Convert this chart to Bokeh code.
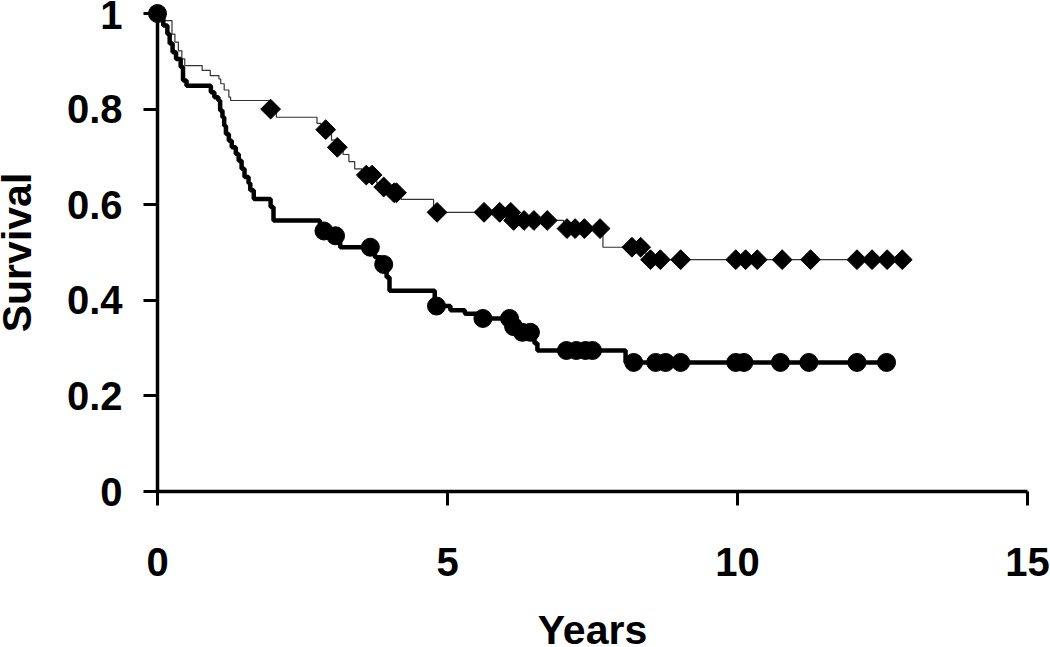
import numpy as np
from bokeh.plotting import figure
from bokeh.models import Range1d, FixedTicker
from bokeh.core.properties import value
from bokeh.embed import file_html
from bokeh.resources import INLINE

# ---- data ----
# Group A: thin line, diamonds (higher survival)
a_time = [0, 0.10, 0.25, 0.30, 0.36, 0.42, 0.47, 0.77, 0.91, 1.06, 1.09, 1.15, 1.23, 1.26,
          1.93, 2.05, 2.75, 2.82, 3.00, 3.08, 3.20, 3.30, 3.40, 3.52, 3.78, 3.85, 4.00, 4.20,
          4.76, 6.12, 7.00, 7.68, 8.42, 12.84]
a_surv = [1.0, 0.985, 0.957, 0.94, 0.922, 0.905, 0.891, 0.881, 0.870, 0.863, 0.853, 0.84, 0.825, 0.818,
          0.80, 0.783, 0.77, 0.757, 0.735, 0.72, 0.705, 0.69, 0.675, 0.662, 0.645, 0.637, 0.625, 0.611,
          0.584, 0.567, 0.55, 0.511, 0.485, 0.485]
a_censor = [1.95, 2.90, 3.10, 3.60, 3.70, 3.90, 4.08, 4.12, 4.82, 5.63, 5.90, 6.09, 6.14, 6.32,
            6.49, 6.72, 7.06, 7.20, 7.36, 7.63, 8.18, 8.33, 8.50, 8.67, 9.02, 9.97, 10.14, 10.34,
            10.77, 11.26, 12.06, 12.32, 12.58, 12.84]

# Group B: thick line, circles (lower survival)
b_time = [0, 0.10, 0.17, 0.21, 0.26, 0.32, 0.40, 0.44, 0.50, 0.92, 0.98, 1.05, 1.08, 1.12, 1.15,
          1.18, 1.23, 1.28, 1.35, 1.40, 1.45, 1.50, 1.57, 1.60, 1.66, 1.95, 2.00, 2.80, 2.97, 3.15,
          3.75, 3.85, 3.95, 4.00, 4.78, 5.05, 5.30, 5.55, 6.10, 6.22, 6.50, 6.55, 8.07, 12.57]
b_surv = [1.0, 0.975, 0.957, 0.937, 0.919, 0.905, 0.888, 0.86, 0.849, 0.835, 0.825, 0.818, 0.797, 0.783,
          0.765, 0.748, 0.734, 0.72, 0.706, 0.692, 0.675, 0.658, 0.645, 0.63, 0.612, 0.595, 0.567, 0.545,
          0.535, 0.511, 0.49, 0.475, 0.448, 0.42, 0.388, 0.379, 0.372, 0.362, 0.345, 0.333, 0.31, 0.295,
          0.27, 0.27]
b_censor = [0.0, 2.87, 3.07, 3.67, 3.90, 4.81, 5.61, 6.07, 6.14, 6.29, 6.43, 7.05, 7.22, 7.38, 7.50,
            8.21, 8.59, 8.76, 9.02, 9.97, 10.11, 10.74, 11.23, 12.06, 12.57]

x_ticks = [0, 5, 10, 15]
x_tick_labels = ["0", "5", "10", "15"]
y_ticks = [0, 0.2, 0.4, 0.6, 0.8, 1.0]
y_tick_labels = ["0", "0.2", "0.4", "0.6", "0.8", "1"]
x_title = "Years"
y_title = "Survival"


def km_at(times, surv, t):
    idx = np.searchsorted(np.asarray(times), np.asarray(t), side="right") - 1
    return np.asarray(surv)[idx]


FONT = "Liberation Sans"

p = figure(width=1050, height=647,
           x_range=Range1d(0, 15), y_range=Range1d(0, 1),
           output_backend="svg", toolbar_location=None,
           min_border_left=157, min_border_right=23,
           min_border_top=13, min_border_bottom=156)
p.outline_line_color = None
p.grid.visible = False
p.background_fill_color = "white"
p.border_fill_color = "white"

# curves
p.step(a_time, a_surv, mode="after", line_color="#333333", line_width=1.2)
p.step(b_time, b_surv, mode="after", line_color="black", line_width=4.5)

# censor marks
p.scatter(a_censor, km_at(a_time, a_surv, a_censor), marker="square", size=14,
          angle=np.pi / 4, fill_color="black", line_color="black", level="overlay")
p.scatter(b_censor, km_at(b_time, b_surv, b_censor), marker="circle", size=18,
          fill_color="black", line_color="black", level="overlay")

# axes
for ax in (p.xaxis[0], p.yaxis[0]):
    ax.axis_line_width = 3.5
    ax.axis_line_color = "black"
    ax.major_tick_line_width = 3
    ax.major_tick_line_color = "black"
    ax.major_tick_in = 0
    ax.major_tick_out = 14
    ax.minor_tick_line_color = None
    ax.minor_tick_out = 0
    ax.major_label_text_font = FONT
    ax.major_label_text_font_style = "bold"
    ax.major_label_text_font_size = "40px"
    ax.major_label_text_color = "black"

p.xaxis[0].ticker = FixedTicker(ticks=x_ticks)
p.xaxis[0].major_label_overrides = {t: l for t, l in zip(x_ticks, x_tick_labels)}
p.xaxis[0].major_label_standoff = 42

p.yaxis[0].ticker = FixedTicker(ticks=y_ticks)
p.yaxis[0].major_label_overrides = {t: l for t, l in zip(y_ticks, y_tick_labels)}
p.yaxis[0].major_label_standoff = 21

# axis titles, drawn as text glyphs outside the frame
p.text(x=[7.5], y=[-0.289], text=[x_title], text_font=value(FONT),
       text_font_style="bold", text_font_size=value("41px"), text_color="black",
       text_align="center", text_baseline="middle", level="overlay")
p.text(x=[-2.42], y=[0.5], text=[y_title], angle=np.pi / 2, text_font=value(FONT),
       text_font_style="bold", text_font_size=value("41px"), text_color="black",
       text_align="center", text_baseline="middle", level="overlay")

open("out.html", "w").write(file_html(p, INLINE))
